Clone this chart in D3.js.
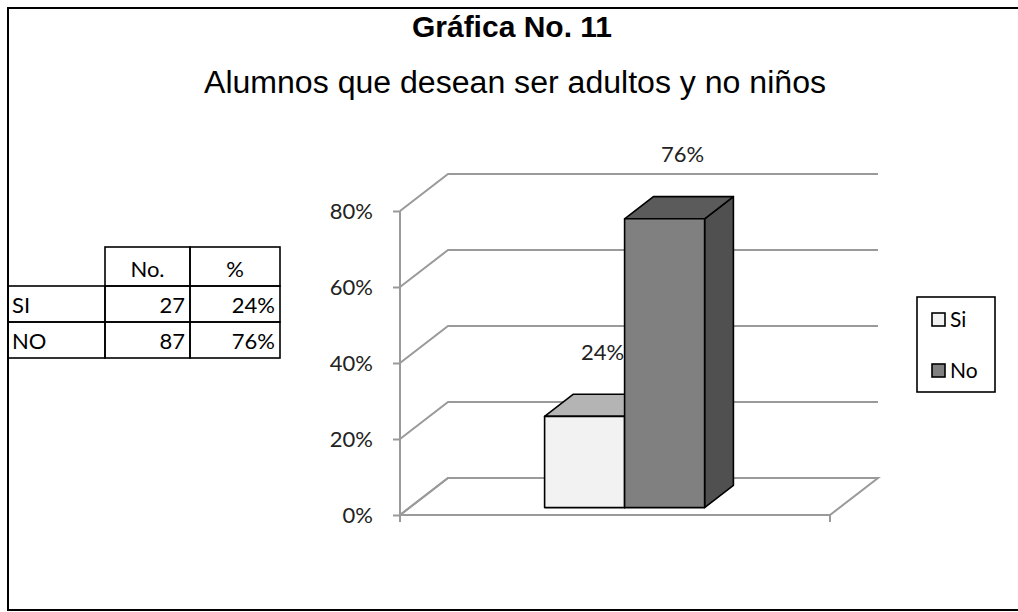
<!DOCTYPE html>
<meta charset="utf-8">
<head>
<script src="https://cdn.jsdelivr.net/npm/d3@7"></script>
<style>
body { margin: 0; background: #fff; }
.tick text { font: 22px Lato, sans-serif; fill: #222; }
.cell text { font: 22px Lato, sans-serif; fill: #000; }
</style>
</head>
<body>
<script>
// data
var category = ["Alumnos"];
var series = ["Si", "No"];
var percents = [0.24, 0.76];
var tableRows = ["SI", "NO"];
var counts = [27, 87];
var tableHead = ["", "No.", "%"];
var yTicks = [0, 0.2, 0.4, 0.6, 0.8];

var colors = {
  Si: {front: "#f2f2f2", top: "#b4b4b4", side: "#9a9a9a"},
  No: {front: "#808080", top: "#5b5b5b", side: "#505050"}
};

var W = 1018, H = 612;
var DX = 48, DY = -37;   // depth of the 3d box
var Z0 = 0.2, Z1 = 0.8;  // bars sit in the middle of the depth

var svg = d3.select("body").append("svg")
  .attr("width", W).attr("height", H);

// frame
svg.append("rect")
  .attr("x", 8).attr("y", 8).attr("width", W + 10).attr("height", 602)
  .attr("fill", "none").attr("stroke", "#000").attr("stroke-width", 2);

svg.append("text")
  .attr("x", 512).attr("y", 37).attr("text-anchor", "middle")
  .style("font", "bold 30px 'Liberation Sans', Arial, sans-serif")
  .text("Gráfica No. 11");

svg.append("text")
  .attr("x", 204).attr("y", 93)
  .attr("textLength", 622).attr("lengthAdjust", "spacingAndGlyphs")
  .style("font", "31px 'Liberation Sans', Arial, sans-serif")
  .text("Alumnos que desean ser adultos y no niños");

var y = d3.scaleLinear().domain([0, 0.8]).range([515, 211]);
var x0 = d3.scaleBand().domain(category).range([400, 830]);
var x1 = d3.scaleBand().domain(series).range([0, x0.bandwidth()])
  .paddingInner(0).paddingOuter(1.6875);

function pt(x, v, z) { return [x + z * DX, y(v) + z * DY]; }
function poly(ps) { return "M" + ps.map(function(p) { return p.join(","); }).join("L") + "Z"; }

var grid = svg.append("g").attr("stroke", "#9a9a9a").attr("stroke-width", 2).attr("fill", "none");

// left wall diagonals + back wall gridlines
yTicks.forEach(function(t) {
  var a = pt(400, t, 0), b = pt(400, t, 1), c = pt(830, t, 1);
  grid.append("path").attr("d", "M" + a + "L" + b + "L" + c);
});
// floor
var fl = [pt(400, 0, 0), pt(830, 0, 0), pt(830, 0, 1), pt(400, 0, 1)];
grid.append("path").attr("d", poly(fl));
// category tick at right end
grid.append("line").attr("x1", 830).attr("x2", 830).attr("y1", y(0)).attr("y2", y(0) + 7);

// y axis
var yAxis = svg.append("g")
  .attr("transform", "translate(400,0)")
  .call(d3.axisLeft(y).tickValues(yTicks).tickFormat(d3.format(".0%"))
    .tickSize(7).tickPadding(20));
yAxis.select(".domain").remove();
yAxis.selectAll("line").attr("stroke", "#9a9a9a").attr("stroke-width", 2);
svg.append("line")
  .attr("x1", 400).attr("x2", 400).attr("y1", y(0.8)).attr("y2", y(0) + 7)
  .attr("stroke", "#9a9a9a").attr("stroke-width", 2);

// bars (3d boxes)
var bars = svg.append("g").selectAll("g")
  .data(series.map(function(s, i) { return {key: s, value: percents[i]}; }))
  .join("g");

bars.each(function(d) {
  var g = d3.select(this);
  var xa = x0(category[0]) + x1(d.key), xb = xa + x1.bandwidth();
  var c = colors[d.key];
  g.append("path").attr("d", poly([pt(xb, 0, Z0), pt(xb, 0, Z1), pt(xb, d.value, Z1), pt(xb, d.value, Z0)]))
    .attr("fill", c.side);
  g.append("path").attr("d", poly([pt(xa, d.value, Z0), pt(xb, d.value, Z0), pt(xb, d.value, Z1), pt(xa, d.value, Z1)]))
    .attr("fill", c.top);
  g.append("path").attr("d", poly([pt(xa, 0, Z0), pt(xb, 0, Z0), pt(xb, d.value, Z0), pt(xa, d.value, Z0)]))
    .attr("fill", c.front);
  g.selectAll("path").attr("stroke", "#000").attr("stroke-width", 1.6).attr("stroke-linejoin", "round");
});

// data labels
svg.append("g").selectAll("text")
  .data(series.map(function(s, i) { return {key: s, value: percents[i]}; }))
  .join("text")
  .attr("x", function(d) { return x0(category[0]) + x1(d.key) + x1.bandwidth() / 2 + Z0 * DX + 18; })
  .attr("y", function(d) { return y(d.value) - 64; })
  .attr("text-anchor", "middle")
  .style("font", "22px Lato, sans-serif").attr("fill", "#222")
  .text(function(d) { return d3.format(".0%")(d.value); });

// legend
var lg = svg.append("g");
lg.append("rect").attr("x", 917).attr("y", 297).attr("width", 78).attr("height", 95)
  .attr("fill", "#fff").attr("stroke", "#000").attr("stroke-width", 1.6);
var li = lg.selectAll("g").data(series).join("g")
  .attr("transform", function(d, i) { return "translate(932," + (313 + i * 51) + ")"; });
li.append("rect").attr("width", 13).attr("height", 13)
  .attr("fill", function(d) { return colors[d].front; })
  .attr("stroke", "#000").attr("stroke-width", 1.6);
li.append("text").attr("x", 18).attr("y", 14)
  .style("font", "21px Lato, sans-serif").attr("fill", "#000")
  .text(function(d) { return d; });

// table
var colX = [8, 105, 190, 280];
var rowY = [247, 286, 322, 358];
var tbl = svg.append("g").attr("class", "cell");
var cells = [];
tableHead.forEach(function(h, c) { cells.push({r: 0, c: c, text: h}); });
tableRows.forEach(function(name, i) {
  cells.push({r: i + 1, c: 0, text: name});
  cells.push({r: i + 1, c: 1, text: String(counts[i])});
  cells.push({r: i + 1, c: 2, text: d3.format(".0%")(percents[i])});
});
tbl.selectAll("rect").data(cells.filter(function(d) { return !(d.r === 0 && d.c === 0); }))
  .join("rect")
  .attr("x", function(d) { return colX[d.c]; })
  .attr("y", function(d) { return rowY[d.r]; })
  .attr("width", function(d) { return colX[d.c + 1] - colX[d.c]; })
  .attr("height", function(d) { return rowY[d.r + 1] - rowY[d.r]; })
  .attr("fill", "none").attr("stroke", "#000").attr("stroke-width", 1.6);
tbl.selectAll("text").data(cells).join("text")
  .attr("x", function(d) {
    if (d.r === 0) return (colX[d.c] + colX[d.c + 1]) / 2;
    return d.c === 0 ? colX[0] + 4 : colX[d.c + 1] - 5;
  })
  .attr("y", function(d) { return rowY[d.r + 1] - 9; })
  .attr("text-anchor", function(d) { return d.r === 0 ? "middle" : (d.c === 0 ? "start" : "end"); })
  .text(function(d) { return d.text; });
</script>
</body>
